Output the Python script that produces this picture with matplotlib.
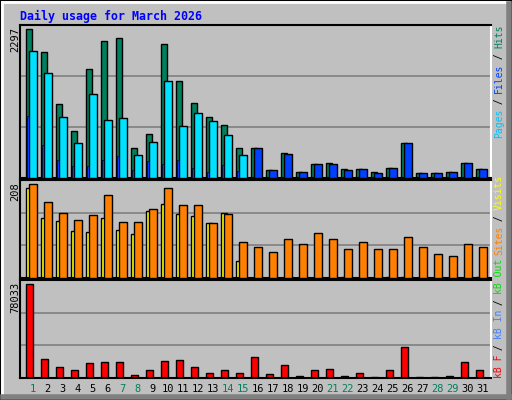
import matplotlib
matplotlib.use("Agg")
import matplotlib.pyplot as plt
from matplotlib.patches import Rectangle

days = list(range(1, 32))
weekend = [1, 7, 8, 14, 15, 21, 22, 28, 29]
hits = [2297, 1952, 1137, 730, 1686, 2125, 2157, 465, 684, 2078, 1498, 1154, 950, 825, 465,
        465, 120, 386, 89, 214, 230, 136, 136, 89, 151, 543, 73, 73, 89, 230, 136]
files = [1968, 1623, 950, 543, 1295, 903, 934, 355, 559, 1498, 809, 997, 887, 658, 355,
         0, 0, 0, 0, 0, 0, 0, 0, 0, 0, 0, 0, 0, 0, 0, 0]
pages = [966, 512, 277, 183, 183, 277, 339, 120, 261, 214, 277, 151, 89, 198, 104,
         465, 120, 371, 89, 214, 214, 120, 136, 73, 151, 543, 73, 73, 89, 230, 136]
visits = [201, 134, 127, 104, 102, 134, 107, 98, 149, 165, 142, 138, 122, 145, 37,
          1, 1, 1, 1, 1, 1, 2, 1, 1, 2, 2, 1, 1, 1, 1, 2]
sites = [208, 169, 145, 129, 140, 185, 124, 124, 154, 201, 163, 163, 122, 143, 80,
         69, 58, 87, 76, 101, 87, 64, 80, 64, 64, 90, 69, 54, 49, 76, 69]
kbytes = [78033, 15719, 8861, 6289, 12291, 13148, 13148, 2573, 6289, 14005, 14862, 8861, 4574, 6289, 4574,
          17148, 3430, 11148, 1715, 6861, 7718, 1715, 4574, 572, 6861, 25725, 572, 572, 1715, 13148, 6289]

BG = "#C0C0C0"
W, H = 512, 400
fig = plt.figure(figsize=(5.12, 4.0), dpi=100, facecolor=BG)

def ax_at(x0, y0, x1, y1):
    return fig.add_axes([x0 / W, 1 - y1 / H, (x1 - x0) / W, (y1 - y0) / H])

# frame bevels
fig.patches.append(Rectangle((0, 0), 1, 1, transform=fig.transFigure, fill=False, ec="black", lw=1.5))
fig.add_artist(plt.Line2D([2/W, 2/W], [4/H, 1-2/H], color="white", lw=2, transform=fig.transFigure))
fig.add_artist(plt.Line2D([2/W, 1-4/W], [1-2/H, 1-2/H], color="white", lw=2, transform=fig.transFigure))
fig.add_artist(plt.Line2D([1-3/W, 1-3/W], [3/H, 1-4/H], color="#808080", lw=4, transform=fig.transFigure))
fig.add_artist(plt.Line2D([3/W, 1-3/W], [3/H, 3/H], color="#808080", lw=4, transform=fig.transFigure))

pos = [25.7 + 15 * i for i in range(31)]
FONT = "DejaVu Sans Mono"

def style(ax, top):
    ax.set_facecolor(BG)
    ax.set_xlim(20, 491)
    ax.set_ylim(0, top)
    for f in (1/3, 2/3):
        ax.axhline(top * f, color="#808080", lw=1.2, zorder=0)
    ax.set_xticks([]); ax.set_yticks([])
    for s in ("top", "left", "bottom"):
        ax.spines[s].set_color("black"); ax.spines[s].set_linewidth(1.5)
    ax.spines["right"].set_color("white"); ax.spines["right"].set_linewidth(1.5)

# top panel
ax1 = ax_at(20, 25, 491, 178)
style(ax1, 2297 * 453 / 440)
ax1.bar(pos, hits, width=6.6, align="edge", color="#00805C", ec="black", lw=1, zorder=2)
x_f = [p + 3.6 for p in pos]
ax1.bar(x_f, files, width=7.4, align="edge", color="#00E0FF", ec="black", lw=1, zorder=3)
wide = [f == 0 for f in files]
ax1.bar([x_f[i] if wide[i] else pos[i] + 1 for i in range(31)], pages,
        width=[7.4 if w else 1.8 for w in wide], align="edge",
        color="#0040FF", ec="black", lw=[1 if w else 0.5 for w in wide], zorder=4)

# middle panel
ax2 = ax_at(20, 180, 491, 278)
style(ax2, 208 * 290 / 277)
ax2.bar(pos, visits, width=6.6, align="edge", color="#FFFF00", ec="black", lw=1, zorder=2)
ax2.bar(x_f, sites, width=7.4, align="edge", color="#FF8000", ec="black", lw=1, zorder=3)

# bottom panel
ax3 = ax_at(20, 280, 491, 378)
style(ax3, 78033 * 286 / 273)
ax3.bar(pos, kbytes, width=6.8, align="edge", color="#FF0000", ec="black", lw=1, zorder=2)

# day labels
for i, d in enumerate(days):
    fig.text((pos[i] + 7) / W, 1 - 389 / H, str(d), ha="center", va="center",
             fontsize=7.5, family=FONT, color="#00805C" if d in weekend else "black")

fig.text(20 / W, 1 - 16 / H, "Daily usage for March 2026", ha="left", va="center",
         fontsize=8.4, family=FONT, weight="bold", color="#0000FF")

for txt, ytop in (("2297", 27), ("208", 182), ("78033", 282)):
    fig.text(15 / W, 1 - ytop / H, txt, rotation=90, ha="center", va="top",
             fontsize=7.5, family=FONT, color="black")

cw = 5.6
def rlabel(pieces, ybottom):
    k = 0
    for txt, col in pieces:
        y = ybottom - k * cw
        fig.text(499 / W, 1 - y / H, txt, rotation=90, ha="center", va="bottom",
                 fontsize=7, family=FONT, color=col)
        k += len(txt)

rlabel([("Pages", "#00C0FF"), (" / ", "black"), ("Files", "#0040FF"),
        (" / ", "black"), ("Hits", "#00805C")], 138)
rlabel([("kB F", "#FF0000"), (" / ", "black"), ("kB In", "#4080FF"), (" / ", "black"),
        ("kB Out", "#00E000"), (" ", "black"), ("Sites", "#FF8000"), (" / ", "black"),
        ("Visits", "#FFFF00")], 378)

fig.savefig("out.png", dpi=100, facecolor=BG)
